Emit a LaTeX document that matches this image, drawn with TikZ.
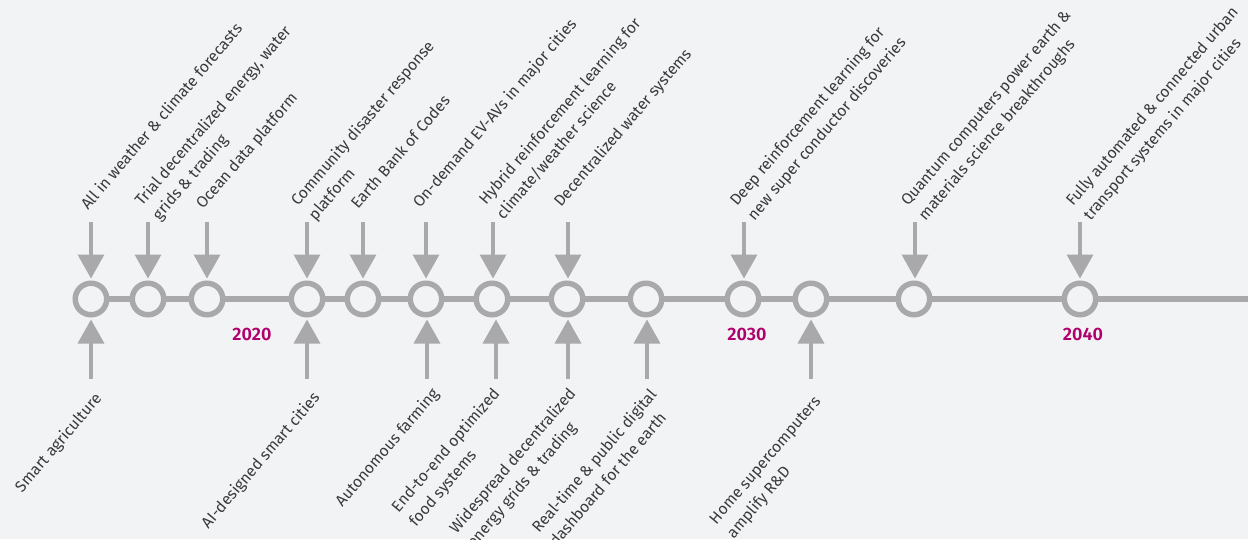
\documentclass[tikz,border=0pt]{standalone}
\usepackage{fontspec}
\setmainfont{Fira Sans}[BoldFont=* SemiBold]
\usetikzlibrary{arrows.meta}
\definecolor{bg}{HTML}{F2F3F5}
\definecolor{tl}{HTML}{A9A9AB}
\definecolor{txt}{HTML}{3A3A3A}
\definecolor{yr}{HTML}{B0006E}
\tikzset{
  ms/.style={circle, draw=tl, line width=5.5pt, fill=bg, minimum size=31.5pt, inner sep=0pt},
  arr/.style={draw=tl, line width=3.5pt, -{Triangle[width=26pt,length=24pt]}, shorten >=2pt},
  labfont/.style={inner sep=0pt, text=txt, font=\fontsize{15.7}{22.5}\selectfont},
  toplab/.style={labfont, rotate=49.5, anchor=base west},
  botlab/.style={labfont, rotate=49.5, anchor=north east},
  year/.style={text=yr, inner sep=0pt, font=\fontsize{18}{18}\selectfont\bfseries}
}
\newcommand{\twol}[2]{\vtop{\hbox{#1}\hbox{\hspace*{0.5pt}#2}}}
\begin{document}
\begin{tikzpicture}[x=1pt,y=-1pt]
\useasboundingbox (0,0) rectangle (1248,539);
\fill[bg] (0,0) rectangle (1248,539);
% milestones
\coordinate (lineend) at (1248,299);
\foreach \i/\x in {1/91,2/148,3/207,4/307,5/363,6/426,7/492,8/567,9/646,10/743,11/811,12/914,13/1080}
  \coordinate (p\i) at (\x,299);
\draw[tl, line width=6pt] (p1) -- (lineend);
\foreach \i in {1,...,13}
  \node[ms] (c\i) at (p\i) {};
% years
\node[year] (y2020) at (252,334) {2020};
\node[year] (y2030) at (747,334) {2030};
\node[year] (y2040) at (1083,334) {2040};
% top arrows
\foreach \i/\x in {1/91,2/148,3/207,4/307,5/363,6/426,7/493,8/568,10/744,12/915,13/1080}{
  \coordinate (t\i) at (\x,222);
  \draw[arr] (t\i) -- (t\i |- c\i.north);
}
% bottom arrows
\foreach \i/\x in {1/91,4/307,6/427,7/496,8/568,9/647,11/811}{
  \coordinate (b\i) at (\x,379);
  \draw[arr] (b\i) -- (b\i |- c\i.south);
}
% top labels
\node[toplab] (l1) at (88,211) {All in weather \& climate forecasts};
\node[toplab] (l2) at (142,207) {\twol{Trial decentralized energy, water}{grids \& trading}};
\node[toplab] (l3) at (203,210) {Ocean data platform};
\node[toplab] (l4) at (298,207) {\twol{Community disaster response}{platform}};
\node[toplab] (l5) at (358,210) {Earth Bank of Codes};
\node[toplab] (l6) at (420,209) {On-demand EV-AVs in major cities};
\node[toplab] (l7) at (486,206) {\twol{Hybrid reinforcement learning for}{climate/weather science}};
\node[toplab] (l8) at (561,208) {Decentralized water systems};
\node[toplab] (l10) at (737,207) {\twol{Deep reinforcement learning for}{new super conductor discoveries}};
\node[toplab] (l12) at (908,207) {\twol{Quantum computers power earth \&}{materials science breakthroughs}};
\node[toplab] (l13) at (1073,207) {\twol{Fully automated \& connected urban}{transport systems in major cities}};
% bottom labels
\node[botlab] (m1) at (93,391) {Smart agriculture};
\node[botlab] (m4) at (311,390) {AI-designed smart cities};
\node[botlab] (m6) at (430,386) {Autonomous farming};
\node[botlab] (m7) at (491,386) {\twol{End-to-end optimized}{food systems}};
\node[botlab] (m8) at (567,386) {\twol{Widespread decentralized}{energy grids \& trading}};
\node[botlab] (m9) at (648,387) {\twol{Real-time \& public digital}{dashboard for the earth}};
\node[botlab] (m11) at (813,395) {\twol{Home supercomputers}{amplify R\&D}};
\end{tikzpicture}
\end{document}
